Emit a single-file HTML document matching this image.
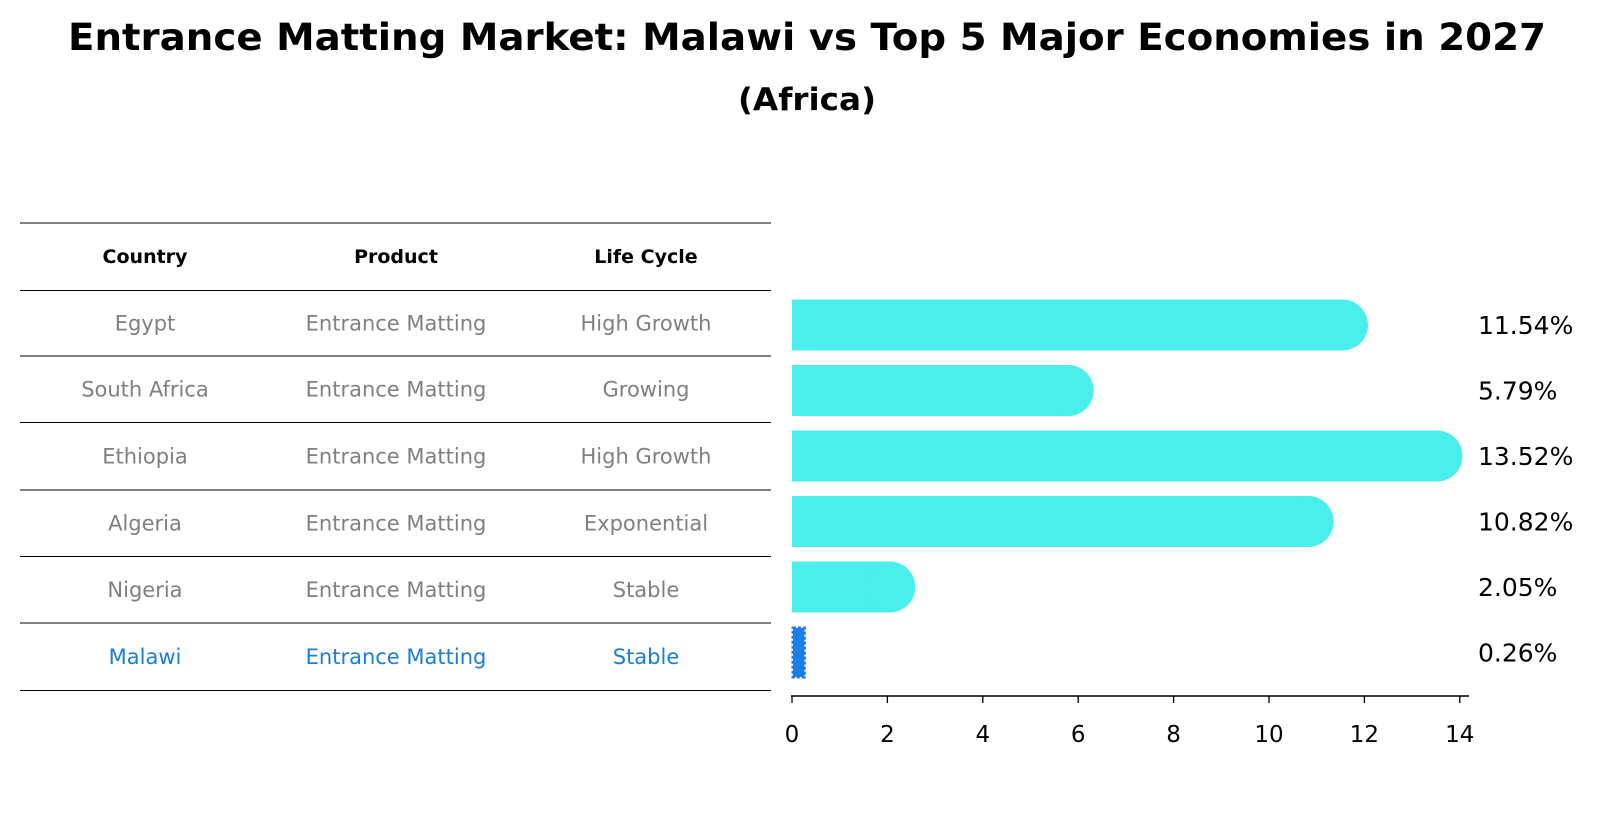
<!DOCTYPE html>
<html><head><meta charset="utf-8"><style>
body{margin:0;background:#fff;font-family:"DejaVu Sans","Liberation Sans",sans-serif;}
svg text{font-family:"DejaVu Sans","Liberation Sans",sans-serif;}
</style></head><body>
<svg id="c" width="1604" height="823" viewBox="0 0 1604 823">
<text x="807" y="50" text-anchor="middle" font-size="37" font-weight="bold" textLength="1478" lengthAdjust="spacingAndGlyphs">Entrance Matting Market: Malawi vs Top 5 Major Economies in 2027</text>
<text x="807" y="110" text-anchor="middle" font-size="31" font-weight="bold" textLength="138" lengthAdjust="spacingAndGlyphs">(Africa)</text>
<g id="tbl"></g>
<g id="bars"></g>
</svg>
<script>
const countries=["Egypt","South Africa","Ethiopia","Algeria","Nigeria","Malawi"];
const products=["Entrance Matting","Entrance Matting","Entrance Matting","Entrance Matting","Entrance Matting","Entrance Matting"];
const lifeCycles=["High Growth","Growing","High Growth","Exponential","Stable","Stable"];
const values=[11.54,5.79,13.52,10.82,2.05,0.26];
const valueLabels=["11.54%","5.79%","13.52%","10.82%","2.05%","0.26%"];
const ticks=[0,2,4,6,8,10,12,14];

const NS="http://www.w3.org/2000/svg";
function mk(tag,attrs,parent,txt){const e=document.createElementNS(NS,tag);for(const k in attrs)e.setAttribute(k,attrs[k]);if(txt!==undefined)e.textContent=txt;parent.appendChild(e);return e;}
const x=v=>792+v*47.7;
const rowY=i=>325+i*65.5;
const tbl=document.getElementById('tbl'), bars=document.getElementById('bars');
const colX=[145,396,646];
const lineYs=[223,290.5,356,422.5,490,556.5,623,690.5];
lineYs.forEach(ly=>{const l=mk('line',{x1:20,x2:771,y1:ly,y2:ly,stroke:'#000','stroke-width':1},tbl);

});
["Country","Product","Life Cycle"].forEach((h,j)=>{const t=mk('text',{x:colX[j],y:263,'text-anchor':'middle','font-size':19,'font-weight':'bold'},tbl,h);

});
countries.forEach((c,i)=>{
 const col=i===countries.length-1?'#1a7fd4':'#808080';
 const cy=(lineYs[i+1]+lineYs[i+2])/2+7;
 [c,products[i],lifeCycles[i]].forEach((s,j)=>{const t=mk('text',{x:colX[j],y:cy,'text-anchor':'middle','font-size':21,fill:col},tbl,s);
 
 });
});
values.forEach((v,i)=>{
 const cy=rowY(i), h=51;
 if(i===values.length-1){
  const r=mk('rect',{x:x(0)+1,y:cy-h/2+1,width:Math.max(x(v)-x(0)-1,1),height:h-2,fill:'#1a7fe6',stroke:'#1a7fe6','stroke-width':3,'stroke-dasharray':'3 2'},bars);
  
  
 } else {
  const g=mk('g',{},bars);
  
  
  mk('rect',{x:x(0),y:cy-h/2,width:x(v)-x(0),height:h,fill:'#4aeeea'},g);
  mk('circle',{cx:x(v),cy:cy,r:h/2,fill:'#4aeeea'},g);
 }
 const t=mk('text',{x:1478,y:cy+9,'font-size':25},bars,valueLabels[i]);
 
 
});
const ax=mk('line',{x1:791,x2:1469,y1:696,y2:696,stroke:'#000','stroke-width':1.6},bars);


ticks.forEach(tv=>{
 mk('line',{x1:x(tv),x2:x(tv),y1:696,y2:703,stroke:'#000','stroke-width':1.3},bars);
 const t=mk('text',{x:x(tv),y:742,'text-anchor':'middle','font-size':23},bars,String(tv));
 
 
});
</script>
</body></html>
